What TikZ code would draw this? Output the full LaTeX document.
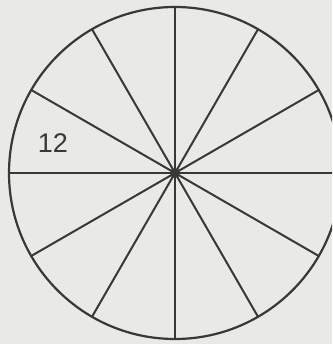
\documentclass[tikz,border=0pt]{standalone}
\usepackage{fontspec}
\setmainfont{Liberation Sans}
\begin{document}
\begin{tikzpicture}[x=1pt,y=1pt,
  rim/.style={draw=linegray,line width=2.2pt},
  spoke/.style={draw=linegray,line width=2pt},
  lbl/.style={font=\fontsize{27}{30}\selectfont,text=linegray,inner sep=0pt}]
\definecolor{linegray}{HTML}{3A3836}
\definecolor{bg}{HTML}{E9E9E6}
\fill[bg] (0,0) rectangle (332,344);
\useasboundingbox (0,0) rectangle (332,344);
\clip (0,0) rectangle (332,344);
\coordinate (c) at (175,171);
\foreach \a in {0,30,...,330}{
  \draw[spoke] (c) -- ++(\a:166);
}
\draw[rim] (c) circle[radius=166];
\fill[linegray] (c) circle[radius=5];
\node[lbl] (n12) at (53,201) {12};
\end{tikzpicture}
\end{document}
